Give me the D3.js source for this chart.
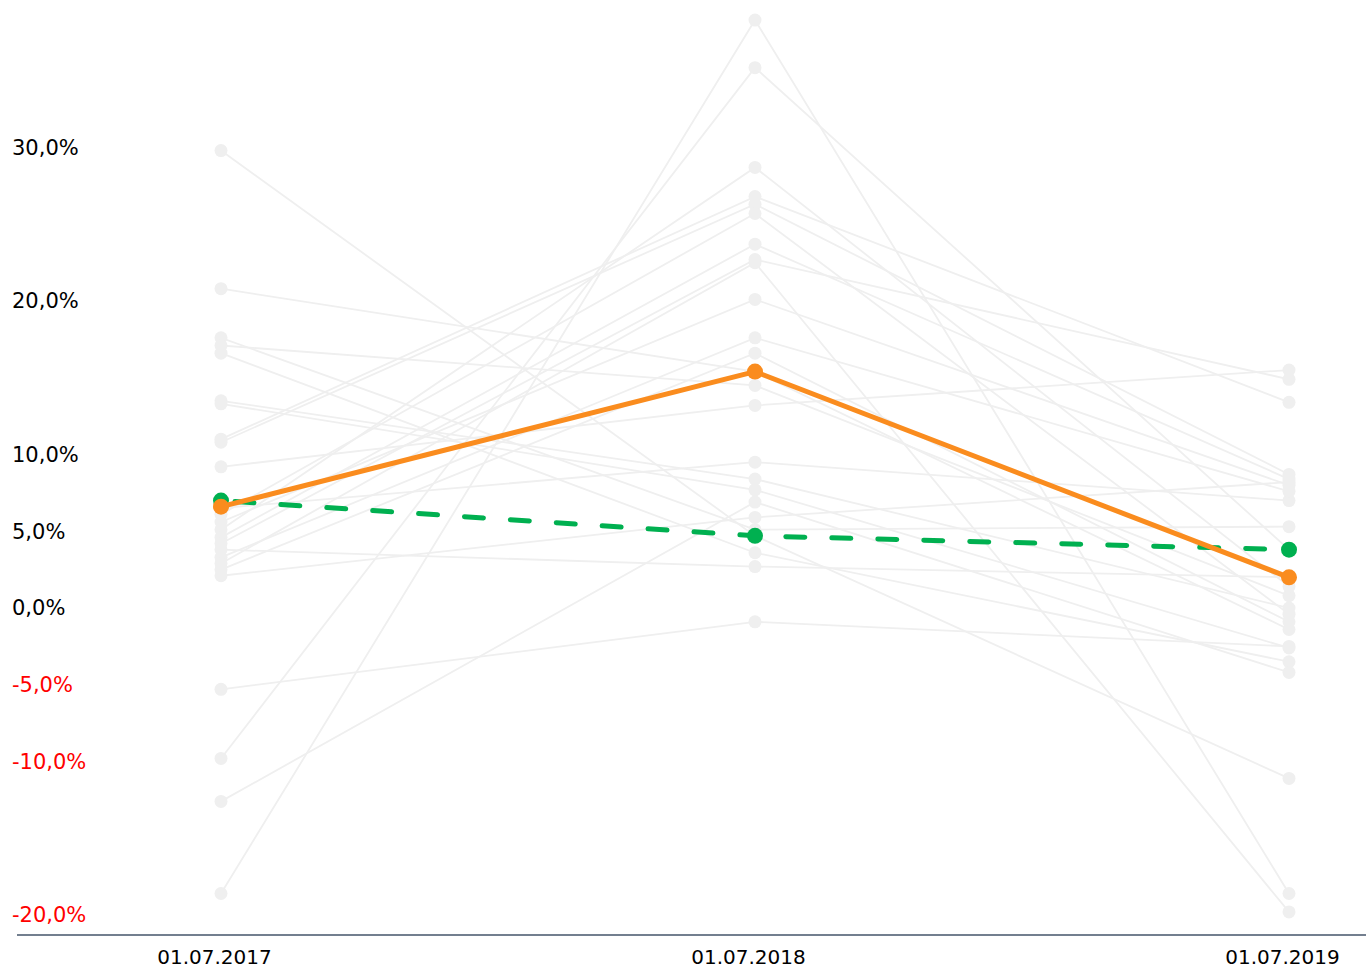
<!DOCTYPE html>
<html>
<head>
<meta charset="utf-8">
<script src="https://cdn.jsdelivr.net/npm/d3@7"></script>
<style>
  html, body { margin: 0; padding: 0; background: #ffffff; }
  svg { display: block; }
</style>
</head>
<body>
<svg id="chart" width="1366" height="970"></svg>
<script>
// Reporting dates (x categories)
const dates = ["01.07.2017", "01.07.2018", "01.07.2019"];

// Peer group yields, %; index i of each array belongs to the same peer
const peers2017 = [29.8, 20.8, 17.6, 17.1, 16.6, 13.5, 13.3, 11.0, 10.8, 9.2, 6.5, 6.1, 5.6,
                   5.1, 4.6, 4.2, 3.8, 3.3, 2.9, 2.5, 2.1, -5.3, -9.8, -12.6, -18.6];
const peers2018 = [4.7, 15.4, 5.1, 14.5, 3.6, 8.4, 7.7, 26.8, 26.3, 13.2, 9.5, 25.7, 20.1,
                   28.7, 23.7, 22.7, 2.7, 17.6, 22.5, 16.6, 5.9, -0.9, 35.2, 6.9, 38.3];
const peers2019 = [-11.1, -1.4, 5.3, 0.8, -3.5, 0.0, -2.6, 13.4, 8.7, 15.5, 7.0, -0.4, 8.0,
                   1.4, 8.4, 14.9, 2.0, 7.6, -19.8, -0.9, 8.2, -2.5, 3.8, -4.2, -18.6];

// Highlighted series
const orangeSeries = [6.6, 15.4, 2.0];
const greenSeries = [7.0, 4.7, 3.8];

// Y axis tick values, %
const yTicks = [30, 20, 10, 5, 0, -5, -10, -20];

const svg = d3.select("#chart");

const x = d3.scalePoint().domain(dates).range([221, 1289]);
const y = d3.scaleLinear().domain([-20, 30]).range([915, 147.5]);

const fmt = v => d3.format(".1f")(v).replace(".", ",").replace("−", "-") + "%";

// Peer rows built from the column arrays
const peers = peers2017.map((v, i) => [peers2017[i], peers2018[i], peers2019[i]]);

const line = d3.line()
  .x((d, i) => x(dates[i]))
  .y(d => y(d));

const grey = "#efefef";

// Background peers
const gPeers = svg.append("g");
gPeers.selectAll("path")
  .data(peers)
  .join("path")
  .attr("d", line)
  .attr("fill", "none")
  .attr("stroke", grey)
  .attr("stroke-width", 1.8);

gPeers.selectAll("g.pts")
  .data(peers)
  .join("g")
  .attr("class", "pts")
  .selectAll("circle")
  .data(d => d)
  .join("circle")
  .attr("cx", (d, i) => x(dates[i]))
  .attr("cy", d => y(d))
  .attr("r", 6.5)
  .attr("fill", grey);

// Green dashed series
svg.append("path")
  .datum(greenSeries)
  .attr("d", line)
  .attr("fill", "none")
  .attr("stroke", "#00b050")
  .attr("stroke-width", 5)
  .attr("stroke-linecap", "round")
  .attr("stroke-dasharray", "19,27")
  .attr("stroke-dashoffset", -14);

svg.append("g").selectAll("circle")
  .data(greenSeries)
  .join("circle")
  .attr("cx", (d, i) => x(dates[i]))
  .attr("cy", d => y(d))
  .attr("r", 8)
  .attr("fill", "#00b050");

// Orange series
svg.append("path")
  .datum(orangeSeries)
  .attr("d", line)
  .attr("fill", "none")
  .attr("stroke", "#fa8c1e")
  .attr("stroke-width", 5)
  .attr("stroke-linejoin", "round");

svg.append("g").selectAll("circle")
  .data(orangeSeries)
  .join("circle")
  .attr("cx", (d, i) => x(dates[i]))
  .attr("cy", d => y(d))
  .attr("r", 8)
  .attr("fill", "#fa8c1e");

// Y labels
svg.append("g").selectAll("text")
  .data(yTicks)
  .join("text")
  .attr("x", 12)
  .attr("y", d => y(d))
  .attr("dy", "0.35em")
  .attr("font-family", "'DejaVu Sans', Verdana, sans-serif")
  .attr("font-size", 21)
  .attr("fill", d => d < 0 ? "#ff0000" : "#000000")
  .text(fmt);

// X axis
const xAxis = d3.axisBottom(x).tickSize(0).tickPadding(0);
const gx = svg.append("g")
  .attr("transform", "translate(0,935)")
  .call(xAxis);
gx.select(".domain").remove();
gx.append("line")
  .attr("x1", 17).attr("x2", 1366)
  .attr("y1", 0).attr("y2", 0)
  .attr("stroke", "#44546a")
  .attr("stroke-width", 1.5);
gx.selectAll(".tick text")
  .attr("dx", -7)
  .attr("y", 29)
  .attr("dy", 0)
  .attr("font-family", "'DejaVu Sans', Verdana, sans-serif")
  .attr("font-size", 20)
  .attr("fill", "#000000");
</script>
</body>
</html>
